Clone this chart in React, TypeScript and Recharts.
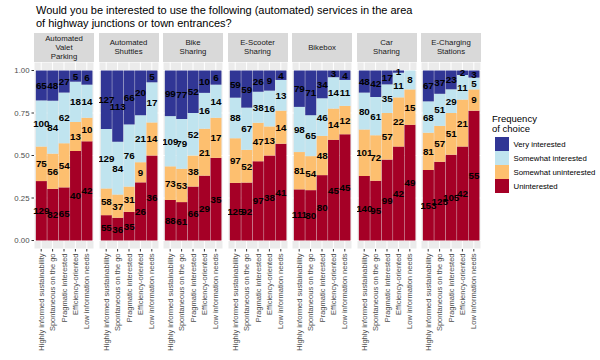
import React from "react";
import { Bar, BarChart, CartesianGrid, LabelList, XAxis, YAxis } from "recharts";

/* ── data (counts per answer level, one inner array per service) ── */

const groups = [
  "Highly informed sustainability",
  "Spontaneous on the go",
  "Pragmatic interested",
  "Efficiency-oriented",
  "Low information needs",
];

const services = [
  "Automated\nValet\nParking",
  "Automated\nShuttles",
  "Bike\nSharing",
  "E-Scooter\nSharing",
  "Bikebox",
  "Car\nSharing",
  "E-Charging\nStations",
];

const uninterested = [
  [129, 82, 65, 40, 42],
  [55, 36, 35, 26, 36],
  [88, 61, 66, 29, 35],
  [125, 92, 97, 38, 41],
  [111, 80, 80, 45, 45],
  [140, 95, 99, 42, 49],
  [153, 125, 105, 42, 55],
];

const somewhatUninterested = [
  [75, 56, 54, 13, 10],
  [58, 37, 31, 9, 14],
  [73, 53, 38, 21, 17],
  [97, 52, 47, 13, 14],
  [81, 54, 48, 14, 12],
  [101, 72, 57, 22, 15],
  [81, 57, 51, 21, 9],
];

const somewhatInterested = [
  [100, 84, 62, 18, 14],
  [129, 84, 76, 21, 17],
  [109, 79, 52, 16, 14],
  [88, 67, 38, 16, 13],
  [98, 65, 46, 14, 11],
  [80, 61, 35, 11, 8],
  [68, 51, 29, 11, 5],
];

const veryInterested = [
  [65, 48, 27, 5, 6],
  [127, 113, 66, 20, 5],
  [99, 77, 52, 10, 6],
  [59, 59, 26, 9, 4],
  [79, 71, 34, 3, 4],
  [48, 42, 17, 1, 0],
  [67, 37, 23, 2, 3],
];

const yTicks = [0, 0.25, 0.5, 0.75, 1];

/* legend order: top of stack first */
const levels = [
  { key: "vi", label: "Very interested", color: "#313695" },
  { key: "si", label: "Somewhat interested", color: "#C0E4EF" },
  { key: "su", label: "Somewhat uninterested", color: "#FDBF6F" },
  { key: "u", label: "Uninterested", color: "#A50026" },
];

const FONT = "'Liberation Sans', Arial, sans-serif";

/* ── layout ── */
const PANEL_LEFT = 34;
const PANEL_PITCH = 64.5;
const PANEL_W = 60;
const Y_AXIS_W = 34;
const PLOT_TOP = 61.5;
const PLOT_H = 187;
const X_AXIS_H = 113;

function XTick({ x, y, payload }: any) {
  return (
    <text
      x={x}
      y={y}
      transform={`rotate(-90 ${x} ${y})`}
      textAnchor="end"
      dominantBaseline="central"
      fontSize={7.5}
      fontFamily={FONT}
      fill="#4D4D4D"
    >
      {payload.value}
    </text>
  );
}

function Facet({ index }: { index: number }) {
  // shares for the 100% stack, raw counts kept for the labels
  const rows = groups.map((g, i) => {
    const nU = uninterested[index][i];
    const nSU = somewhatUninterested[index][i];
    const nSI = somewhatInterested[index][i];
    const nVI = veryInterested[index][i];
    const total = nU + nSU + nSI + nVI;
    return {
      group: g,
      u: nU / total,
      su: nSU / total,
      si: nSI / total,
      vi: nVI / total,
      n_u: nU,
      n_su: nSU,
      n_si: nSI,
      n_vi: nVI,
    };
  });
  const first = index === 0;
  const width = first ? PANEL_W + Y_AXIS_W : PANEL_W;
  const left = PANEL_LEFT + PANEL_PITCH * index - (first ? Y_AXIS_W : 0);

  return (
    <>
      <div
        style={{
          position: "absolute",
          left: PANEL_LEFT + PANEL_PITCH * index,
          top: 33,
          width: PANEL_W,
          height: 28.5,
          background: "#D9D9D9",
          color: "#1A1A1A",
          fontFamily: FONT,
          fontSize: 7.8,
          lineHeight: "9px",
          whiteSpace: "pre-line",
          textAlign: "center",
          display: "flex",
          alignItems: "center",
          justifyContent: "center",
        }}
      >
        {services[index]}
      </div>
      <div style={{ position: "absolute", left, top: PLOT_TOP }}>
        <BarChart
          width={width}
          height={PLOT_H + X_AXIS_H}
          data={rows}
          barCategoryGap="3%"
          margin={{ top: 0, right: 0, bottom: 0, left: 0 }}
          style={{ overflow: "visible" }}
        >
          <CartesianGrid fill="#EBEBEB" stroke="#FFFFFF" strokeWidth={1} />
          <XAxis
            dataKey="group"
            interval={0}
            height={X_AXIS_H}
            padding={{ left: 1.5, right: 1.5 }}
            axisLine={false}
            tickLine={{ stroke: "#333333" }}
            tickSize={2.5}
            tick={<XTick />}
          />
          <YAxis
            hide={!first}
            width={Y_AXIS_W}
            type="number"
            domain={[-0.05, 1.05]}
            allowDataOverflow
            ticks={yTicks}
            tickFormatter={(v: number) => v.toFixed(2)}
            axisLine={false}
            tickLine={{ stroke: "#333333" }}
            tickSize={2.5}
            tick={{ fill: "#4D4D4D", fontSize: 7.8, fontFamily: FONT }}
          />
          {[...levels].reverse().map((lv) => (
            <Bar
              key={lv.key}
              dataKey={lv.key}
              stackId="a"
              fill={lv.color}
              isAnimationActive={false}
            >
              <LabelList
                dataKey={`n_${lv.key}`}
                position="center"
                fill="#000000"
                fontSize={9.8}
                fontWeight="bold"
                fontFamily={FONT}
              />
            </Bar>
          ))}
        </BarChart>
      </div>
    </>
  );
}

export default function App() {
  return (
    <div
      style={{
        position: "absolute",
        left: 0,
        top: 0,
        width: 600,
        height: 360,
        background: "#FFFFFF",
        overflow: "hidden",
        fontFamily: FONT,
      }}
    >
      <div
        style={{
          position: "absolute",
          left: 36,
          top: 4,
          fontSize: 11,
          lineHeight: "13px",
          color: "#000000",
        }}
      >
        Would you be interested to use the following (automated) services in the area
        <br />
        of highway junctions or town entrances?
      </div>

      {services.map((_, i) => (
        <Facet key={i} index={i} />
      ))}

      {/* Legend */}
      <div style={{ position: "absolute", left: 492, top: 114 }}>
        <div style={{ fontSize: 9.5, lineHeight: "10px", color: "#000", marginBottom: 3 }}>
          Frequency
          <br />
          of choice
        </div>
        {levels.map((lv) => (
          <div key={lv.key} style={{ display: "flex", alignItems: "center", height: 14 }}>
            <div style={{ width: 13.5, height: 13.5, background: lv.color, marginLeft: 3 }} />
            <span style={{ fontSize: 7.8, color: "#000", marginLeft: 5 }}>{lv.label}</span>
          </div>
        ))}
      </div>
    </div>
  );
}
